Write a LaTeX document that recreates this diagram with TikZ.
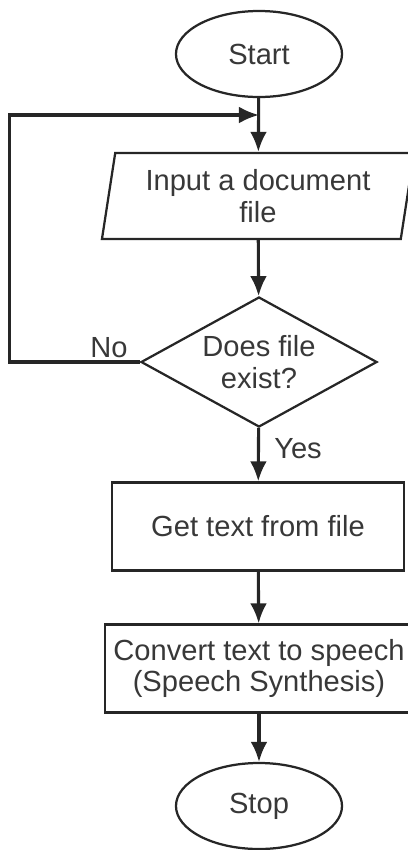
\documentclass[tikz,border=0pt]{standalone}
\usepackage{fontspec}
\setmainfont{Liberation Sans}
\usetikzlibrary{shapes.geometric,arrows.meta}
\begin{document}
\begin{tikzpicture}[x=0.025cm, y=-0.025cm, >={Latex[length=5mm,width=4.2mm]},
    every node/.style={font=\fontsize{20.7}{22.5}\selectfont, text=black!78},
    term/.style={ellipse, draw=black!85, line width=1.6pt, minimum width=4.15cm, minimum height=2.15cm},
    io/.style={trapezium, trapezium left angle=78, trapezium right angle=102,
        trapezium stretches body=true, draw=black!85, line width=1.6pt,
        minimum width=7.8cm, minimum height=2.15cm, align=center},
    proc/.style={rectangle, draw=black!85, line width=1.6pt, minimum height=2.2cm, align=center},
    decision/.style={diamond, aspect=1.8, draw=black!85, line width=1.6pt, minimum width=5.9cm,
        minimum height=3.25cm, align=center, inner sep=0pt},
    flow/.style={->, draw=black!85, line width=2.2pt}]
    \useasboundingbox (0,0) rectangle (408,850);

    \node[term] (start) at (259,54) {Start};
    \node[io] (input) at (258,196) {Input a document\\file};
    \node[decision] (dec) at (259,362) {Does file\\exist?};
    \node[proc, minimum width=7.3cm] (gettext) at (258,526.5) {Get text from file};
    \node[proc, minimum width=7.7cm] (convert) at (259,668.5) {Convert text to speech\\(Speech Synthesis)};
    \node[term] (stop) at (259,806) {Stop};
    \coordinate (merge) at (259,115);

    \node[anchor=base east, inner sep=0pt] (nolbl) at ([xshift=-0.3cm, yshift=0.12cm]dec.west) {No};
    \node[anchor=west, inner sep=0pt] (yeslbl) at ([xshift=0.375cm, yshift=-0.52cm]dec.south) {Yes};

    \draw[flow] (start) -- (input);
    \draw[flow] (input) -- (dec);
    \draw[flow] (dec) -- (gettext);
    \draw[flow] (gettext) -- (convert);
    \draw[flow] (convert) -- (stop);
    \draw[flow] (dec.west) -- ++(-130,0) |- (merge);
\end{tikzpicture}
\end{document}
